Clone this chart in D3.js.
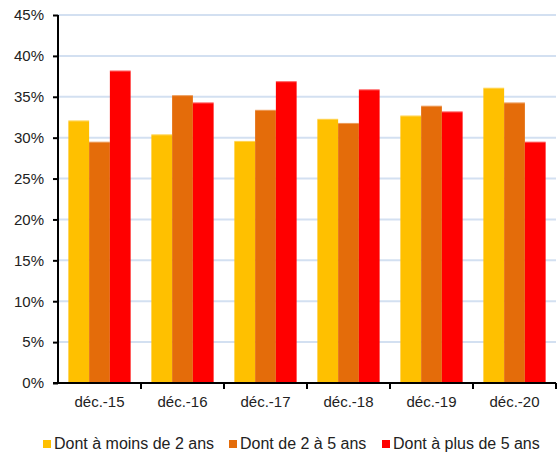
<!DOCTYPE html>
<html>
<head>
<meta charset="utf-8">
<script src="https://cdn.jsdelivr.net/npm/d3@7"></script>
<style>
  body { margin: 0; background: #fff; }
  text { font-family: 'Liberation Sans', Arial, sans-serif; fill: #222; }
</style>
</head>
<body>
<div id="chart"></div>
<script>
const categories = ['déc.-15', 'déc.-16', 'déc.-17', 'déc.-18', 'déc.-19', 'déc.-20'];
const seriesNames = ['Dont à moins de 2 ans', 'Dont de 2 à 5 ans', 'Dont à plus de 5 ans'];
const lessThan2 = [32.1, 30.4, 29.6, 32.3, 32.7, 36.1];
const from2to5 = [29.5, 35.2, 33.4, 31.8, 33.9, 34.3];
const moreThan5 = [38.2, 34.3, 36.9, 35.9, 33.2, 29.5];
const yTicks = [0, 5, 10, 15, 20, 25, 30, 35, 40, 45];
const colors = ['#FFC000', '#E46C0A', '#FF0000'];

const width = 559;
const height = 458;
const margin = { top: 15, right: 3, bottom: 75, left: 58 };

const svg = d3.select('#chart').append('svg')
  .attr('width', width)
  .attr('height', height);

const x = d3.scaleBand()
  .domain(categories)
  .range([margin.left, width - margin.right]);

const xInner = d3.scaleBand()
  .domain(d3.range(seriesNames.length))
  .range([0, x.bandwidth()])
  .paddingOuter(0.5)
  .paddingInner(0);

const y = d3.scaleLinear()
  .domain([0, 45])
  .range([height - margin.bottom, margin.top]);

// gridlines
svg.append('g')
  .selectAll('line')
  .data(yTicks.filter(d => d > 0))
  .join('line')
  .attr('x1', margin.left)
  .attr('x2', width - margin.right)
  .attr('y1', d => y(d))
  .attr('y2', d => y(d))
  .attr('stroke', '#D3E0F1')
  .attr('stroke-width', 2);

const table = categories.map((c, i) => ({
  cat: c,
  values: [lessThan2[i], from2to5[i], moreThan5[i]],
}));

const groups = svg.append('g')
  .selectAll('g')
  .data(table)
  .join('g')
  .attr('transform', d => `translate(${x(d.cat)},0)`);

groups.selectAll('rect')
  .data(d => d.values.map((v, k) => ({ v, k })))
  .join('rect')
  .attr('x', d => xInner(d.k))
  .attr('y', d => y(d.v))
  .attr('width', xInner.bandwidth())
  .attr('height', d => y(0) - y(d.v))
  .attr('fill', d => colors[d.k]);

// light top edge on bars
groups.selectAll('line.top')
  .data(d => d.values.map((v, k) => ({ v, k })))
  .join('line')
  .attr('class', 'top')
  .attr('x1', d => xInner(d.k))
  .attr('x2', d => xInner(d.k) + xInner.bandwidth())
  .attr('y1', d => y(d.v) + 0.5)
  .attr('y2', d => y(d.v) + 0.5)
  .attr('stroke', '#fff')
  .attr('stroke-opacity', 0.35);

// y axis
const yAxis = svg.append('g')
  .attr('transform', `translate(${margin.left},0)`)
  .call(d3.axisLeft(y).tickValues(yTicks).tickFormat(d => `${d}%`).tickSize(5).tickPadding(9));
yAxis.select('.domain').attr('stroke', '#000').attr('stroke-width', 2)
  .attr('d', `M0,${y(45)}V${y(0) + 1}`);
yAxis.selectAll('.tick line').attr('stroke', '#000').attr('stroke-width', 2);
yAxis.selectAll('text').attr('font-size', 15).attr('font-family', "'Liberation Sans', Arial, sans-serif").attr('fill', '#222');

// x axis
const xAxis = svg.append('g')
  .attr('transform', `translate(0,${y(0)})`)
  .call(d3.axisBottom(x).tickSize(0).tickPadding(13));
xAxis.select('.domain').attr('stroke', '#000').attr('stroke-width', 2)
  .attr('d', `M${margin.left - 5},0H${width - margin.right}`);
xAxis.selectAll('text').attr('font-size', 15).attr('font-family', "'Liberation Sans', Arial, sans-serif").attr('fill', '#222');

// separator ticks between groups
xAxis.append('g')
  .selectAll('line')
  .data(categories)
  .join('line')
  .attr('x1', d => x(d) + x.bandwidth())
  .attr('x2', d => x(d) + x.bandwidth())
  .attr('y1', 0)
  .attr('y2', 6)
  .attr('stroke', '#000')
  .attr('stroke-width', 2);

// legend
const legendX = [43, 229, 382];
const legend = svg.append('g')
  .attr('transform', 'translate(0,449)');

const items = legend.selectAll('g')
  .data(seriesNames)
  .join('g')
  .attr('transform', (d, i) => `translate(${legendX[i]},0)`);

items.append('rect')
  .attr('x', 0)
  .attr('y', -9)
  .attr('width', 8)
  .attr('height', 8)
  .attr('fill', (d, i) => colors[i]);

items.append('text')
  .attr('x', 11)
  .attr('y', 0)
  .attr('font-size', 16)
  .text(d => d);
</script>
</body>
</html>
